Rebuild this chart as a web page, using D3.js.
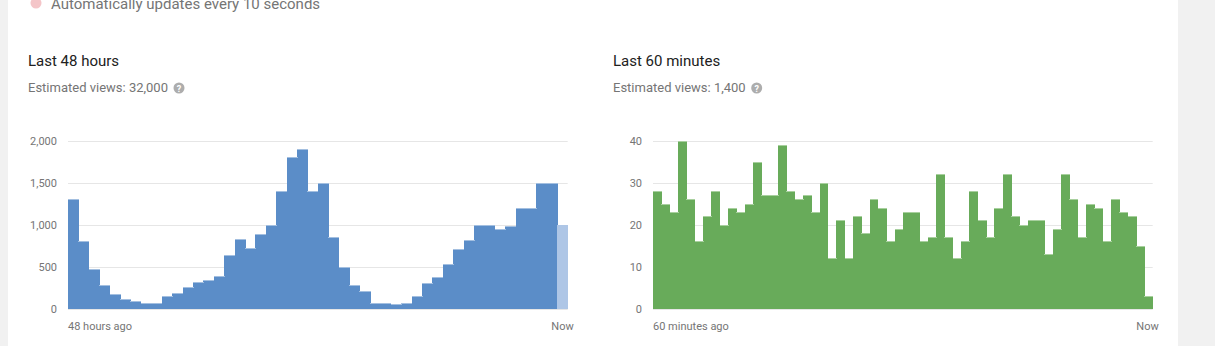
<!DOCTYPE html>
<html>
<head>
<meta charset="utf-8">
<script src="https://cdn.jsdelivr.net/npm/d3@7"></script>
<style>
  body { margin: 0; background: #f1f1f1; font-family: Roboto, 'Noto Sans', sans-serif; }
  svg { display: block; }
</style>
</head>
<body>
<svg id="chart" width="1215" height="346"></svg>
<script>
// Views per hour, last 48 hours (last bar = current, partial hour)
const hourViews = [1300, 800, 475, 280, 170, 115, 90, 60, 70, 145, 185, 255, 315, 345, 390, 635,
  830, 715, 890, 1000, 1400, 1800, 1900, 1400, 1500, 855, 490, 280, 205, 70, 60, 55,
  70, 150, 300, 380, 535, 710, 810, 1000, 1000, 950, 985, 1200, 1200, 1500, 1500, 1000];
// Views per minute, last 60 minutes
const minuteViews = [28, 25, 23, 40, 26, 16, 22, 28, 20, 24, 23, 25, 35, 27, 27, 39, 28, 26, 27, 23,
  30, 12, 21, 12, 22, 18, 26, 24, 16, 19, 23, 23, 16, 17, 32, 17, 12, 16, 28, 21,
  17, 24, 32, 22, 20, 21, 21, 13, 19, 32, 26, 17, 25, 24, 16, 26, 23, 22, 15, 3];
const hourTicks = [0, 500, 1000, 1500, 2000];
const minuteTicks = [0, 10, 20, 30, 40];
const titles = ['Last 48 hours', 'Last 60 minutes'];
const totals = ['Estimated views: 32,000', 'Estimated views: 1,400'];
const startLabels = ['48 hours ago', '60 minutes ago'];

const svg = d3.select('#chart');

// card background
svg.append('rect').attr('x', 8).attr('y', 0).attr('width', 1170).attr('height', 346).attr('fill', '#fff');

// status line at top (cut off)
svg.append('circle').attr('cx', 36).attr('cy', 3).attr('r', 5.5).attr('fill', '#f4c5c8');
svg.append('text').attr('x', 51).attr('y', 9).attr('font-size', 15).attr('fill', '#757575')
  .text('Automatically updates every 10 seconds');

function drawPanel(left, idx, data, ticks, color, topColor, lastColor) {
  const g = svg.append('g');

  g.append('text').attr('x', left - 40).attr('y', 66).attr('font-size', 15).attr('fill', '#212121')
    .text(titles[idx]);
  const sub = g.append('text').attr('x', left - 40).attr('y', 92).attr('font-size', 13).attr('fill', '#757575')
    .text(totals[idx]);
  const w = sub.node().getComputedTextLength();
  const ix = left - 40 + w + 11;
  g.append('circle').attr('cx', ix).attr('cy', 88).attr('r', 5.5).attr('fill', '#adadad');
  g.append('text').attr('x', ix).attr('y', 91.5).attr('text-anchor', 'middle')
    .attr('font-size', 9).attr('font-weight', 'bold').attr('fill', '#fff').text('?');

  const x = d3.scaleBand()
    .domain(d3.range(data.length))
    .range([left, left + 499.7])
    .paddingInner(0).paddingOuter(0);
  const y = d3.scaleLinear()
    .domain([0, d3.max(ticks)])
    .range([309, 141]);

  // gridlines + y labels
  const yAxis = g.append('g')
    .attr('transform', 'translate(' + left + ',0)')
    .call(d3.axisLeft(y).tickValues(ticks).tickSize(-499.7).tickPadding(11).tickFormat(d3.format(',')));
  yAxis.select('.domain').remove();
  yAxis.selectAll('line').attr('stroke', '#e6e6e6');
  yAxis.selectAll('text').attr('font-size', 11).attr('fill', '#757575').attr('font-family', 'Roboto, sans-serif');

  // bars
  g.selectAll('rect.bar').data(data).enter().append('rect')
    .attr('class', 'bar')
    .attr('x', (d, i) => x(i))
    .attr('y', d => y(d))
    .attr('width', x.bandwidth() + 0.6)
    .attr('height', d => 309 - y(d))
    .attr('shape-rendering', 'crispEdges')
    .attr('fill', (d, i) => (lastColor && i === data.length - 1) ? lastColor : color);
  g.selectAll('rect.top').data(data).enter().append('rect')
    .attr('class', 'top')
    .attr('x', (d, i) => x(i))
    .attr('y', d => y(d) - 0.5)
    .attr('width', x.bandwidth() + 0.6)
    .attr('height', 1)
    .attr('shape-rendering', 'crispEdges')
    .attr('fill', (d, i) => (lastColor && i === data.length - 1) ? lastColor : topColor);

  // x labels
  g.append('text').attr('x', left).attr('y', 330).attr('font-size', 11).attr('fill', '#757575')
    .text(startLabels[idx]);
  g.append('text').attr('x', x.range()[1] + 6).attr('y', 330).attr('font-size', 11).attr('fill', '#757575')
    .attr('text-anchor', 'end').text('Now');
}

drawPanel(68, 0, hourViews, hourTicks, '#5b8dc8', '#a3bfe0', '#aec6e6');
drawPanel(653, 1, minuteViews, minuteTicks, '#68ab5a', '#a8d09e', null);
</script>
</body>
</html>
